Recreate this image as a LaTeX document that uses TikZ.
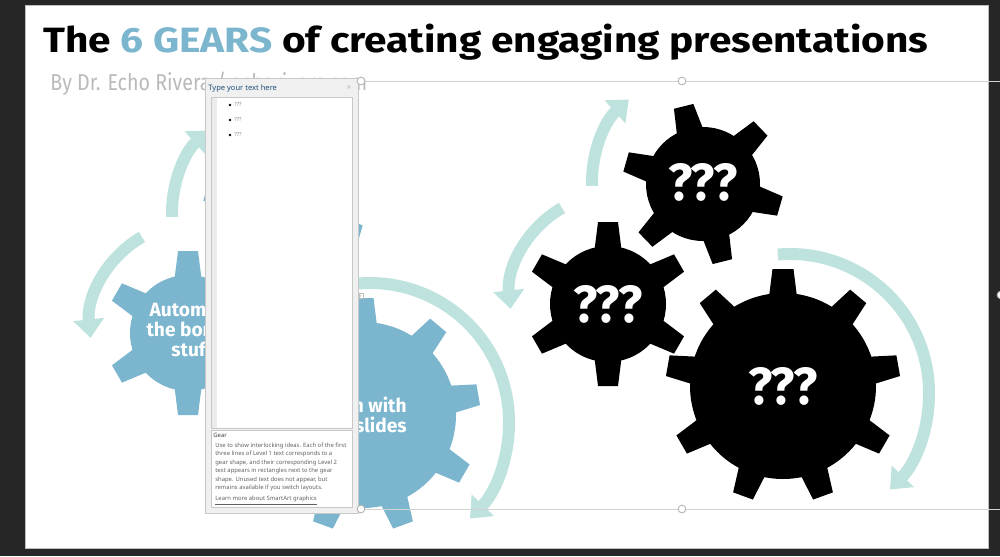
\documentclass[tikz,border=0pt]{standalone}
\usepackage{graphicx}
\usepackage{fontspec}
\setmainfont{Fira Sans}
\newfontfamily\uifont{Noto Sans}
\usepackage{tikz}
\usetikzlibrary{arrows.meta,calc}
\pgfdeclarelayer{backlayer}
\pgfdeclarelayer{gearlayer}
\pgfsetlayers{backlayer,gearlayer,main}
\definecolor{gearblue}{RGB}{123,182,206}
\definecolor{arrowteal}{RGB}{190,227,223}
\definecolor{deskgray}{RGB}{38,38,38}
\definecolor{panegray}{RGB}{240,240,240}
\definecolor{paneline}{RGB}{200,200,200}
\definecolor{paneblue}{RGB}{31,78,121}
\tikzstyle{gearlabel}=[text=white, font=\bfseries\fontsize{10.9}{11.4}\selectfont, align=center, inner sep=0]
\tikzstyle{qlabel}=[text=white, font=\bfseries, inner sep=0]
\tikzstyle{spinarrow}=[draw=arrowteal, line width=6.8pt, -{Triangle[length=10.5pt, width=17pt]}]
\tikzstyle{sizer}=[circle, draw=gray!60, fill=white, inner sep=0, minimum size=4.4pt, line width=0.5pt]
\tikzstyle{frameline}=[draw=gray!35, line width=0.5pt]
\tikzstyle{panebox}=[fill=white, draw=paneline, line width=0.4pt]
\tikzstyle{desc}=[anchor=base west, inner sep=0, text=black!62, font=\uifont\fontsize{3.35}{3.7}\selectfont]
\tikzstyle{bullettext}=[anchor=west, inner sep=0, text=black!45, font=\uifont\fontsize{3.2}{3.2}\selectfont]
% gear: x, y, teeth, first angle, body radius, tip radius, half base, half tip, colour
\newcommand{\cog}[9]{%
  \fill[#9] (#1,#2) circle (#5);
  \pgfmathsetmacro{\cogstep}{360/#3}
  \foreach \k in {1,...,#3}{
    \fill[#9, shift={(#1,#2)}, rotate={#4+\k*\cogstep-90}]
      (-#7,#5-4) -- (-#8,#6) -- (#8,#6) -- (#7,#5-4) -- cycle;
  }
}
\newcommand{\qq}{\resizebox{1.4cm}{0.74cm}{???}}

\begin{document}
\begin{tikzpicture}[x=0.02cm, y=0.02cm]
	\useasboundingbox (0,0) rectangle (1000,556);
	\begin{pgfonlayer}{backlayer}
		\fill[deskgray] (0,0) rectangle (1000,556);
		\filldraw[fill=white, draw=gray!50] (25,8) rectangle (988,551);
		\node [anchor=base west, inner sep=0] (title) at (43,504) {\resizebox{17.7cm}{0.57cm}{\bfseries The \textcolor{gearblue}{6 GEARS} of creating engaging presentations}};
		\node [anchor=base west, inner sep=0, text=black!27] (byline) at (50,466) {\resizebox{6.34cm}{0.37cm}{By Dr. Echo Rivera / echorivera.com}};
	\end{pgfonlayer}
	\begin{pgfonlayer}{gearlayer}
		% blue set
		\cog{363}{141}{9}{90}{93}{117}{14}{10.5}{gearblue}
		\cog{188}{223}{6}{30}{58}{82}{13.5}{10}{gearblue}
		\cog{283}{343}{6}{104}{57}{80}{13.5}{10}{gearblue}
		\node [gearlabel] (bluemid) at (192,226) {Automate\\the boring\\stuff};
		\node [gearlabel, anchor=east, align=right] (bluebig) at (407,141) {n with\\slides};
		\coordinate (bluesmall) at (283,343);
		\coordinate (bluemidpivot) at (194,229);
		\coordinate (bluepivot) at (370,134);
		\draw [style=spinarrow] ($(bluesmall)+(182:111)$) arc[start angle=182, end angle=132, radius=111];
		\draw [style=spinarrow] ($(bluemidpivot)+(120:104)$) arc[start angle=120, end angle=186, radius=104];
		\draw [style=spinarrow] ($(bluepivot)+(95:139)$) arc[start angle=95, end angle=-44, radius=139];
		% black set
		\cog{783}{170}{9}{90}{93}{117}{14}{10.5}{black}
		\cog{608}{252}{6}{30}{58}{82}{13.5}{10}{black}
		\cog{703}{372}{6}{104}{57}{80}{13.5}{10}{black}
		\node [qlabel] (blackbig) at (783,170) {\qq};
		\node [qlabel] (blackmid) at (608,252) {\qq};
		\node [qlabel] (blacksmall) at (703,374) {\qq};
		\coordinate (blackmidpivot) at (614,258);
		\coordinate (blackpivot) at (790,163);
		\draw [style=spinarrow] ($(blacksmall)+(182:111)$) arc[start angle=182, end angle=132, radius=111];
		\draw [style=spinarrow] ($(blackmidpivot)+(120:104)$) arc[start angle=120, end angle=186, radius=104];
		\draw [style=spinarrow] ($(blackpivot)+(95:139)$) arc[start angle=95, end angle=-44, radius=139];
	\end{pgfonlayer}
	% selection frame
	\coordinate (tr) at (1000,475);
	\coordinate (br) at (1000,47);
	\draw [style=frameline] (361,475) -- (tr);
	\draw [style=frameline] (361,47) -- (br);
	% text pane
	\filldraw[fill=panegray, draw=paneline] (205,43) rectangle (358,478);
	\node [anchor=base west, inner sep=0, text=paneblue, font=\uifont\fontsize{4.3}{4.3}\selectfont] (panehead) at (208,465.5) {Type your text here};
	\node [inner sep=0, text=black!25, font=\uifont\fontsize{5}{5}\selectfont] (paneclose) at (349,468) {×};
	\filldraw[style=panebox] (211,128) rectangle (352,459);
	\fill[black!8] (211.5,128.5) rectangle (217,458.5);
	\fill (230,451) circle (1.4);
	\fill (230,436) circle (1.4);
	\fill (230,421) circle (1.4);
	\node [style=bullettext] (item1) at (234,451) {???};
	\node [style=bullettext] (item2) at (234,436) {???};
	\node [style=bullettext] (item3) at (234,421) {???};
	\filldraw[style=panebox] (211,49) rectangle (352,126);
	\node [style=desc, text=black!75, font=\uifont\bfseries\fontsize{3.4}{3.4}\selectfont] (gearhead) at (213,119) {Gear};
	\node [style=desc] (d1) at (215,109) {Use to show interlocking ideas. Each of the first};
	\node [style=desc] (d2) at (215,100.5) {three lines of Level 1 text corresponds to a};
	\node [style=desc] (d3) at (215,92) {gear shape, and their corresponding Level 2};
	\node [style=desc] (d4) at (215,83.5) {text appears in rectangles next to the gear};
	\node [style=desc] (d5) at (215,75) {shape. Unused text does not appear, but};
	\node [style=desc] (d6) at (215,66.5) {remains available if you switch layouts.};
	\node [style=desc] (learn) at (215,56) {\underline{Learn more about SmartArt graphics}};
	\node [draw=gray!50, fill=white, inner sep=0.6pt, font=\uifont\fontsize{3}{3}\selectfont, text=gray] (texttab) at (361,260) {›};
	% handles
	\node [style=sizer] (tl) at (361,475) {};
	\node [style=sizer] (tm) at (682,475) {};
	\node [style=sizer] (bl) at (361,47) {};
	\node [style=sizer] (bm) at (682,47) {};
	\node [style=sizer] (rm) at (1001,261) {};
\end{tikzpicture}
\end{document}
